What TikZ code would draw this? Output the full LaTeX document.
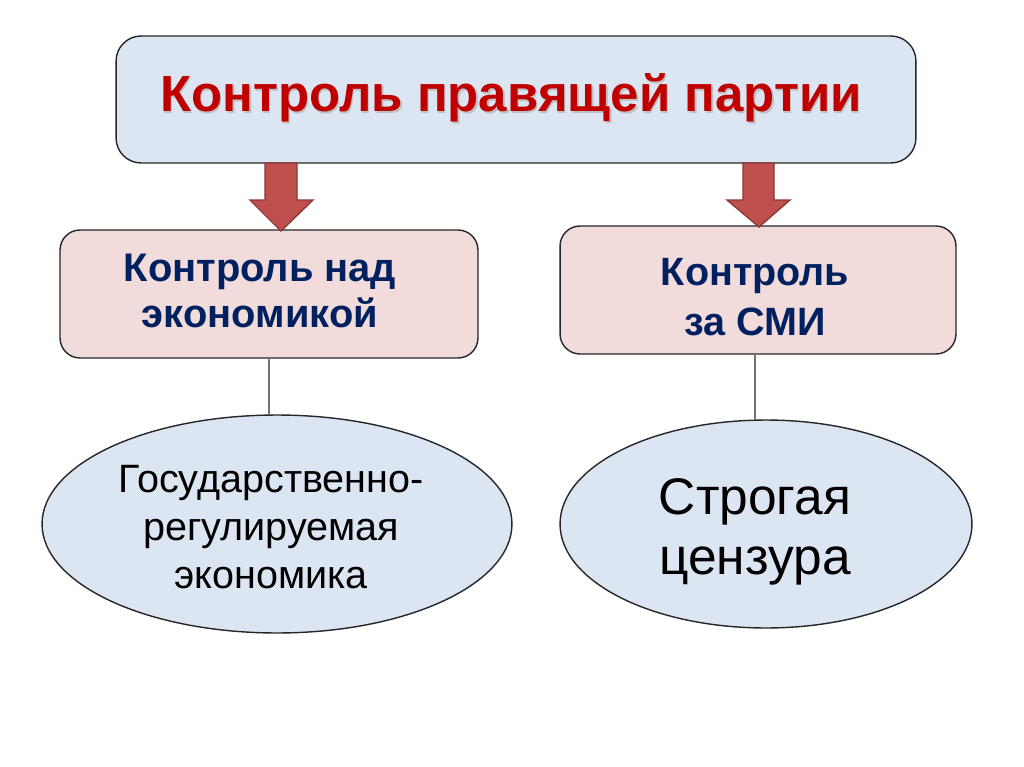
\documentclass[tikz,border=0pt]{standalone}
\usepackage{fontspec}
\setmainfont{Liberation Sans}
\usetikzlibrary{shapes.geometric}
\definecolor{boxblue}{HTML}{DCE6F2}
\definecolor{boxpink}{HTML}{F2DCDB}
\definecolor{arrowred}{HTML}{C0504D}
\definecolor{arrowedge}{HTML}{8C3836}
\definecolor{titlered}{HTML}{C00000}
\definecolor{navy}{HTML}{002060}
\tikzset{
	box/.style={draw=black!85, line width=0.8pt, rounded corners=0.4cm},
	oval/.style={ellipse, draw=black!85, line width=0.8pt, fill=boxblue, inner sep=0pt},
	boxtext/.style={text=navy, align=center, font=\fontsize{22.7}{26.3}\selectfont\bfseries},
	bigarrow/.style={fill=arrowred, draw=arrowedge, line width=0.8pt},
	link/.style={draw=black!55, line width=0.6pt}
}

\begin{document}
\begin{tikzpicture}[x=0.02cm, y=-0.02cm]
	%%%%% START %%%%%
	\useasboundingbox (0, 0) rectangle (1024, 767);
	
	% top box
	\node[box, fill=boxblue, rounded corners=0.5cm, minimum width=16cm, minimum height=2.54cm] (party) at (516, 99.5) {};
	\node[text=black!25, font=\fontsize{29}{32}\selectfont\bfseries] (titleshadow) at (512.5, 99.5) {Контроль правящей партии};
	\node[text=titlered, font=\fontsize{29}{32}\selectfont\bfseries] (title) at (511, 98) {Контроль правящей партии};
	
	% second level
	\node[box, fill=boxpink, minimum width=8.36cm, minimum height=2.56cm] (economy) at (269, 294) {};
	\node[boxtext] (economytext) at (260, 291) {Контроль над\\экономикой};
	\node[box, fill=boxpink, minimum width=7.92cm, minimum height=2.56cm] (media) at (758, 290) {};
	\node[boxtext, font=\fontsize{22.5}{28}\selectfont\bfseries] (mediatext) at (755, 297) {Контроль\\за СМИ};
	
	% arrows
	\draw[bigarrow] (265, 163) -- (297, 163) -- (297, 200) -- (313, 200) -- (281, 231) -- (250, 200) -- (265, 200) -- cycle;
	\draw[bigarrow] (743, 163) -- (774, 163) -- (774, 200) -- (790, 200) -- (759, 227) -- (727, 200) -- (743, 200) -- cycle;
	
	% ovals
	\node[oval, minimum width=9.4cm, minimum height=4.36cm] (planned) at (277, 524) {};
	\node[align=center, font=\fontsize{22.5}{27.3}\selectfont] (plannedtext) at (271, 527) {Государственно-\\регулируемая\\экономика};
	\node[oval, minimum width=8.24cm, minimum height=4.16cm] (censor) at (766, 524) {};
	\node[align=center, font=\fontsize{29.3}{34}\selectfont] (censortext) at (755, 532) {Строгая\\цензура};
	
	\draw[link] (economy.south) -- (economy.south |- planned.north);
	\draw[link] ([xshift=-0.06cm]media.south) -- ([xshift=-0.06cm]media.south |- censor.north);
	%%%%% END %%%%%
\end{tikzpicture}
\end{document}
